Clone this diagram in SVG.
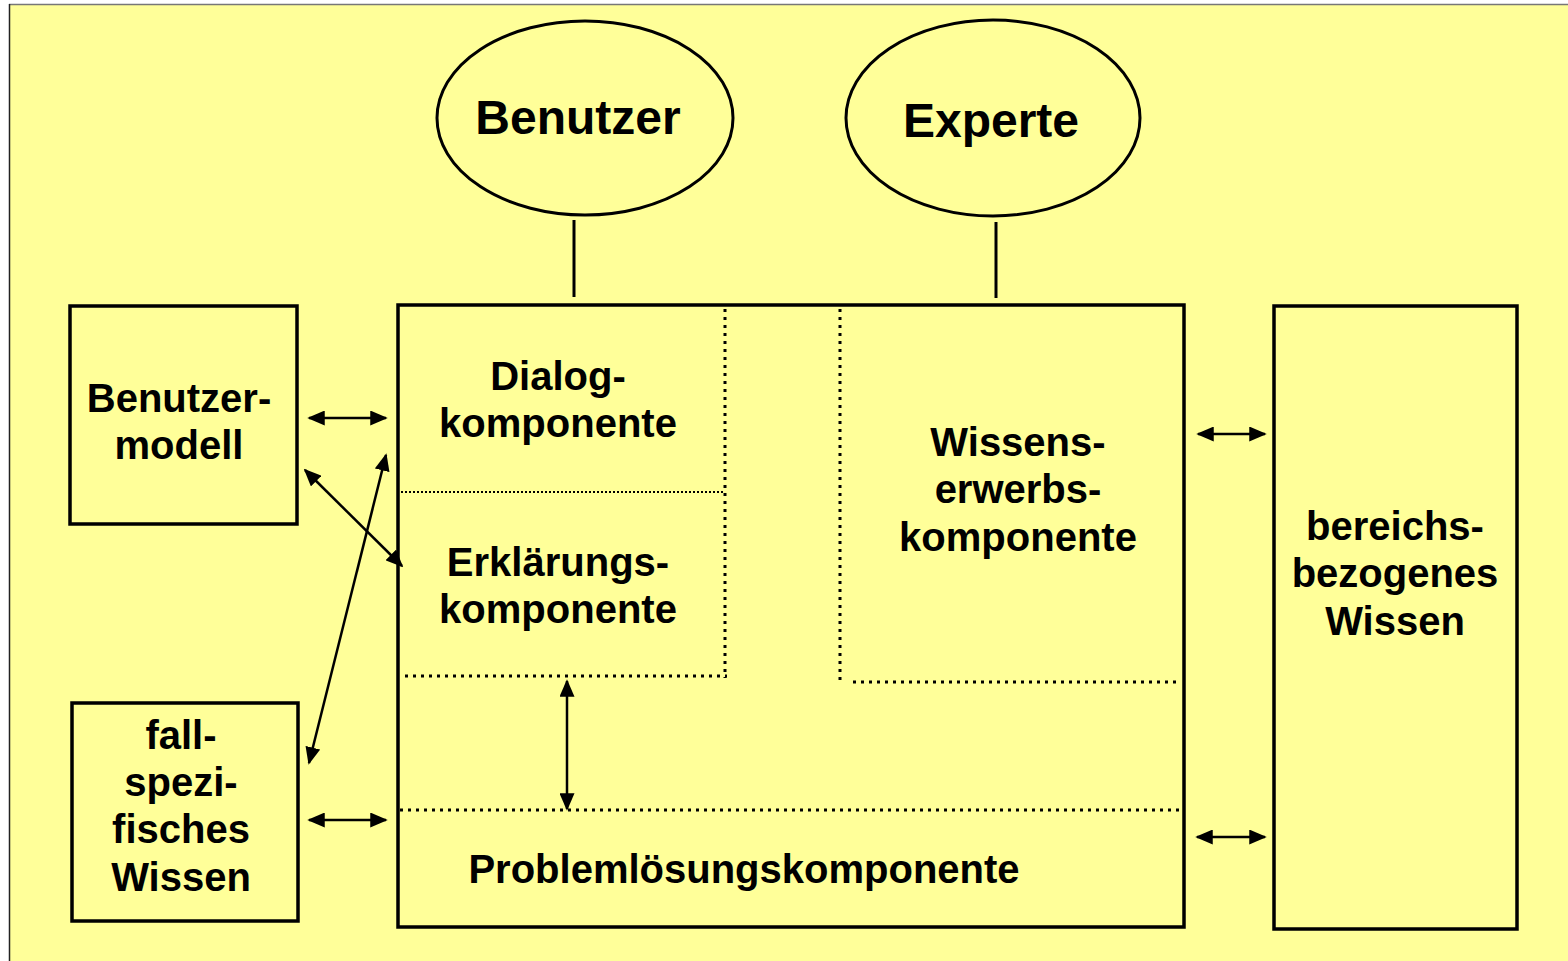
<svg xmlns="http://www.w3.org/2000/svg" width="1568" height="961" viewBox="0 0 1568 961">
<defs>
<marker id="ah" viewBox="0 0 10 10" refX="9" refY="5" markerWidth="7" markerHeight="6" orient="auto-start-reverse" markerUnits="strokeWidth" preserveAspectRatio="none">
<path d="M0,0 L10,5 L0,10 z" fill="#000"/>
</marker>
<style>
.box{fill:none;stroke:#000;stroke-width:3.5}
.ell{fill:#FFFF99;stroke:#000;stroke-width:3}
.dot{stroke:#000;stroke-width:3;stroke-dasharray:3 5;fill:none}
.dot2{stroke:#000;stroke-width:2;stroke-dasharray:2 2;fill:none}
.ln{stroke:#000;stroke-width:3}
.arr{stroke:#000;stroke-width:2.5;marker-start:url(#ah);marker-end:url(#ah)}
text{font-family:"Liberation Sans",Arial,sans-serif;font-weight:bold;fill:#000;text-anchor:middle}
.t{font-size:40px}
.big{font-size:48px}
</style>
</defs>
<rect x="0" y="0" width="1568" height="961" fill="#fff"/>
<rect x="9" y="4" width="1559" height="957" fill="#FFFF99"/>
<line x1="9" y1="4.5" x2="1568" y2="4.5" stroke="#777" stroke-width="1.5"/>
<line x1="9.5" y1="4" x2="9.5" y2="961" stroke="#222" stroke-width="1.5"/>

<g id="benutzer">
<ellipse class="ell" cx="585" cy="118" rx="148" ry="97"/>
<text class="big" x="578" y="134">Benutzer</text>
</g>
<g id="experte">
<ellipse class="ell" cx="993" cy="118" rx="147" ry="98"/>
<text class="big" x="991" y="137">Experte</text>
</g>

<g id="main">
<rect class="box" x="398" y="305" width="786" height="622"/>
<line class="dot" x1="725" y1="309" x2="725" y2="678"/>
<line class="dot2" x1="401" y1="492" x2="723" y2="492"/>
<line class="dot" x1="405" y1="676" x2="727" y2="676"/>
<line class="dot" x1="840" y1="309" x2="840" y2="682"/>
<line class="dot" x1="853" y1="682" x2="1180" y2="682"/>
<line class="dot" x1="400" y1="810" x2="1180" y2="810"/>
</g>
<g id="dialog">
<text class="t" x="558" y="390">Dialog-</text>
<text class="t" x="558" y="437">komponente</text>
</g>
<g id="erklaerung">
<text class="t" x="558" y="576">Erklärungs-</text>
<text class="t" x="558" y="623">komponente</text>
</g>
<g id="wissenserwerb">
<text class="t" x="1018" y="456">Wissens-</text>
<text class="t" x="1018" y="503">erwerbs-</text>
<text class="t" x="1018" y="551">komponente</text>
</g>
<g id="problemloesung">
<text class="t" x="744" y="883">Problemlösungskomponente</text>
</g>

<g id="benutzermodell">
<rect class="box" x="70" y="306" width="227" height="218"/>
<text class="t" x="179" y="412">Benutzer-</text>
<text class="t" x="179" y="459">modell</text>
</g>
<g id="fallspezifisch">
<rect class="box" x="72" y="703" width="226" height="218"/>
<text class="t" x="181" y="749">fall-</text>
<text class="t" x="181" y="796">spezi-</text>
<text class="t" x="181" y="843">fisches</text>
<text class="t" x="181" y="891">Wissen</text>
</g>
<g id="bereichsbezogen">
<rect class="box" x="1274" y="306" width="243" height="623"/>
<text class="t" x="1395" y="540">bereichs-</text>
<text class="t" x="1395" y="587">bezogenes</text>
<text class="t" x="1395" y="635">Wissen</text>
</g>

<g id="connectors">
<line class="ln" x1="574" y1="220" x2="574" y2="297"/>
<line class="ln" x1="996" y1="222" x2="996" y2="298"/>
<line class="arr" x1="309" y1="418" x2="386" y2="418"/>
<line class="arr" x1="305" y1="470" x2="402" y2="566"/>
<line class="arr" x1="386" y1="455" x2="309" y2="763"/>
<line class="arr" x1="309" y1="820" x2="386" y2="820"/>
<line class="arr" x1="567" y1="681" x2="567" y2="809"/>
<line class="arr" x1="1198" y1="434" x2="1265" y2="434"/>
<line class="arr" x1="1197" y1="837" x2="1265" y2="837"/>
</g>
</svg>
